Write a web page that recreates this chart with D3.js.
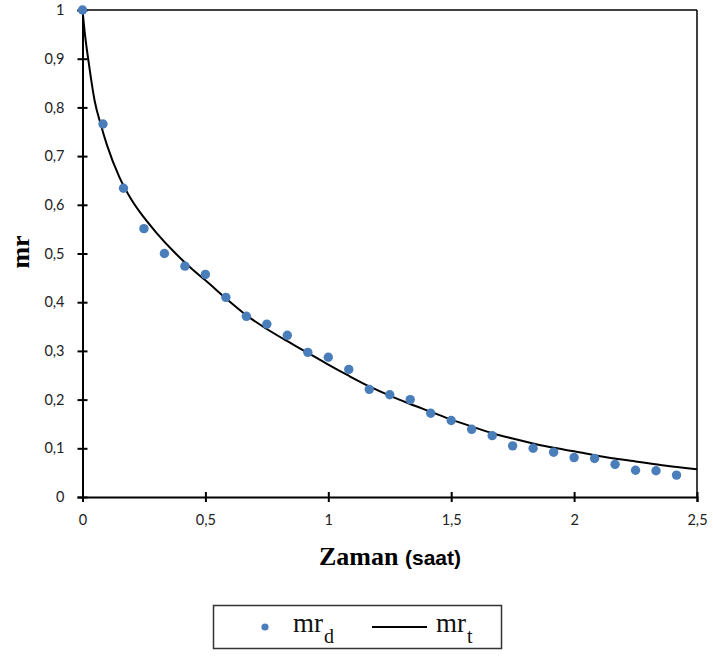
<!DOCTYPE html>
<html>
<head>
<meta charset="utf-8">
<script src="https://cdn.jsdelivr.net/npm/d3@7"></script>
<style>
  html, body { margin: 0; padding: 0; background: #fff; }
  svg { display: block; }
  .tick text { font-family: Lato, "Open Sans", sans-serif; font-size: 14.5px; fill: #222; }
</style>
</head>
<body>
<svg id="chart" width="713" height="657"></svg>
<script>
// Measured drying ratio (mr_d) at 5-minute intervals, time in hours
const timeMeasured = [0, 0.0833, 0.1667, 0.25, 0.3333, 0.4167, 0.5, 0.5833, 0.6667, 0.75,
  0.8333, 0.9167, 1.0, 1.0833, 1.1667, 1.25, 1.3333, 1.4167, 1.5, 1.5833,
  1.6667, 1.75, 1.8333, 1.9167, 2.0, 2.0833, 2.1667, 2.25, 2.3333, 2.4167];
const mrMeasured = [1.0, 0.766, 0.634, 0.551, 0.500, 0.474, 0.457, 0.410, 0.371, 0.355,
  0.332, 0.297, 0.287, 0.262, 0.221, 0.210, 0.200, 0.172, 0.157, 0.139,
  0.126, 0.105, 0.100, 0.092, 0.081, 0.079, 0.067, 0.055, 0.054, 0.045];

// Model prediction (mr_t)
const timeModel = [0, 0.01, 0.025, 0.05, 0.075, 0.1, 0.15, 0.2, 0.25, 0.3,
  0.375, 0.45, 0.5, 0.583, 0.667, 0.75, 0.833, 0.917, 1.0, 1.083,
  1.167, 1.25, 1.333, 1.417, 1.5, 1.583, 1.667, 1.75, 1.833, 1.917,
  2.0, 2.1, 2.25, 2.375, 2.5];
const mrModel = [1.0, 0.950, 0.893, 0.812, 0.764, 0.722, 0.657, 0.610, 0.574, 0.543,
  0.502, 0.466, 0.445, 0.408, 0.373, 0.345, 0.320, 0.296, 0.272, 0.249,
  0.227, 0.208, 0.191, 0.175, 0.159, 0.145, 0.131, 0.120, 0.110, 0.101,
  0.094, 0.084, 0.073, 0.064, 0.057];

const xTicks = [0, 0.5, 1, 1.5, 2, 2.5];
const yTicks = [0, 0.1, 0.2, 0.3, 0.4, 0.5, 0.6, 0.7, 0.8, 0.9, 1];
const fmtComma = v => String(+v.toFixed(2)).replace(".", ",");

const svg = d3.select("#chart");
const plot = { left: 82.5, right: 697, top: 10, bottom: 497 };

const x = d3.scaleLinear().domain([0, 2.5]).range([plot.left, plot.right]);
const y = d3.scaleLinear().domain([0, 1]).range([plot.bottom, plot.top]);

// Frame: top and right borders
svg.append("line").attr("x1", plot.left).attr("x2", plot.right)
  .attr("y1", plot.top).attr("y2", plot.top)
  .attr("stroke", "#000").attr("stroke-width", 1.5);
svg.append("line").attr("x1", plot.right).attr("x2", plot.right)
  .attr("y1", plot.top).attr("y2", plot.bottom)
  .attr("stroke", "#000").attr("stroke-width", 1.5);

// Y axis with ticks crossing the axis line
const gy = svg.append("g").attr("transform", `translate(${plot.left},0)`)
  .call(d3.axisLeft(y).tickValues(yTicks).tickFormat(fmtComma).tickSize(5).tickPadding(13));
gy.select(".domain").attr("stroke", "#000").attr("stroke-width", 2);
gy.selectAll(".tick line").attr("x1", -5).attr("x2", 5).attr("stroke", "#000").attr("stroke-width", 2);

// X axis
const gx = svg.append("g").attr("transform", `translate(0,${plot.bottom})`)
  .call(d3.axisBottom(x).tickValues(xTicks).tickFormat(fmtComma).tickSize(5).tickPadding(13));
gx.select(".domain").attr("stroke", "#000").attr("stroke-width", 2);
gx.selectAll(".tick line").attr("y1", -5).attr("y2", 5).attr("stroke", "#000").attr("stroke-width", 2);

// Model curve
const modelData = timeModel.map((t, i) => [t, mrModel[i]]);
svg.append("path")
  .datum(modelData)
  .attr("fill", "none")
  .attr("stroke", "#000")
  .attr("stroke-width", 2)
  .attr("d", d3.line().x(d => x(d[0])).y(d => y(d[1])).curve(d3.curveMonotoneX));

// Measured points
svg.append("g").selectAll("circle")
  .data(timeMeasured.map((t, i) => [t, mrMeasured[i]]))
  .join("circle")
  .attr("cx", d => x(d[0]))
  .attr("cy", d => y(d[1]))
  .attr("r", 4.7)
  .attr("fill", "#4a7ebb");

// Axis titles
svg.append("text")
  .attr("transform", "translate(29,252) rotate(-90)")
  .attr("text-anchor", "middle")
  .attr("font-family", "'Liberation Serif', 'Times New Roman', serif")
  .attr("font-weight", "bold")
  .attr("font-size", 26)
  .text("mr");

const xt = svg.append("text")
  .attr("x", 390).attr("y", 565)
  .attr("text-anchor", "middle");
xt.append("tspan")
  .attr("font-family", "'Liberation Serif', 'Times New Roman', serif")
  .attr("font-weight", "bold").attr("font-size", 26)
  .text("Zaman ");
xt.append("tspan")
  .attr("font-family", "'Liberation Sans', Arial, sans-serif")
  .attr("font-weight", "bold").attr("font-size", 21)
  .text("(saat)");

// Legend
const lg = svg.append("g");
lg.append("rect")
  .attr("x", 213.5).attr("y", 605.5).attr("width", 288).attr("height", 43)
  .attr("fill", "#fff").attr("stroke", "#333").attr("stroke-width", 1.5);
lg.append("circle").attr("cx", 265).attr("cy", 627).attr("r", 3.6).attr("fill", "#4a7ebb");
const serif = "'Liberation Serif', 'Times New Roman', serif";
const t1 = lg.append("text").attr("x", 293).attr("y", 632)
  .attr("font-family", serif).attr("font-size", 27).attr("fill", "#111");
t1.append("tspan").text("mr");
t1.append("tspan").attr("font-size", 20).attr("dy", 11).attr("dx", 1).text("d");
lg.append("line").attr("x1", 372).attr("x2", 427).attr("y1", 627).attr("y2", 627)
  .attr("stroke", "#000").attr("stroke-width", 1.8);
const t2 = lg.append("text").attr("x", 436).attr("y", 632)
  .attr("font-family", serif).attr("font-size", 27).attr("fill", "#111");
t2.append("tspan").text("mr");
t2.append("tspan").attr("font-size", 20).attr("dy", 11).attr("dx", 1).text("t");
</script>
</body>
</html>
